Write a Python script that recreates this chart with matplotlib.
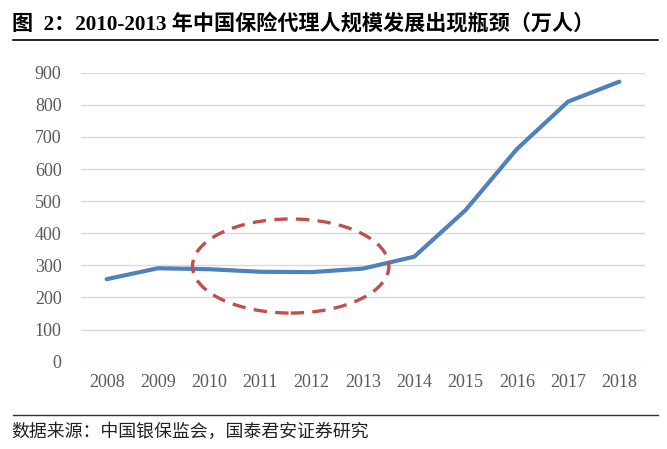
import matplotlib.pyplot as plt
from matplotlib.patches import Ellipse
from matplotlib.lines import Line2D

years = ['2008', '2009', '2010', '2011', '2012', '2013', '2014', '2015', '2016', '2017', '2018']
agents = [257, 291, 288, 280, 279, 290, 327, 472, 662, 810, 872]

title = '图  2：2010-2013 年中国保险代理人规模发展出现瓶颈（万人）'
source = '数据来源：中国银保监会，国泰君安证券研究'

W, H = 667, 449
fig = plt.figure(figsize=(W / 100, H / 100), dpi=100)

ax = fig.add_axes([81 / W, 1 - 361.7 / H, (645 - 81) / W, (361.7 - 72.7) / H])
x = list(range(len(years)))
ax.plot(x, agents, color='#4F81BD', linewidth=3, solid_capstyle='round', zorder=3)

# dashed ellipse marking the 2010-2013 plateau
ell = Ellipse((3.59, 298), width=3.83, height=293, fill=False,
              edgecolor='#C0504D', linewidth=2.4, linestyle=(0, (4, 2.5)), zorder=4)
ax.add_patch(ell)

ax.set_xlim(-0.5, len(years) - 0.5)
ax.set_ylim(0, 900)
ax.set_yticks(range(0, 901, 100))
ax.set_xticks(x)
ax.set_xticklabels(years)
ax.grid(axis='y', color='#D9D9D9', linewidth=1)
ax.set_axisbelow(True)
for s in ax.spines.values():
    s.set_visible(False)
ax.tick_params(length=0, labelsize=13, labelcolor='#595959', pad=9)
for lbl in ax.get_xticklabels() + ax.get_yticklabels():
    lbl.set_family('Liberation Serif')
ax.tick_params(axis='y', pad=14)

fig.text(12 / W, 1 - 24.5 / H, title, fontsize=15.2, fontweight='bold',
         family=['Liberation Serif', 'Noto Sans CJK SC'], va='center', ha='left')
fig.add_artist(Line2D([13 / W, 658 / W], [1 - 40 / H] * 2, color='black', linewidth=1.2))
fig.add_artist(Line2D([13 / W, 658 / W], [1 - 415.3 / H] * 2, color='#333333', linewidth=1))
fig.text(11 / W, 1 - 432 / H, source, fontsize=12.9,
         family=['Noto Sans CJK SC', 'DejaVu Sans'], va='center', ha='left', color='#222222')

fig.savefig('out.png', dpi=100)
